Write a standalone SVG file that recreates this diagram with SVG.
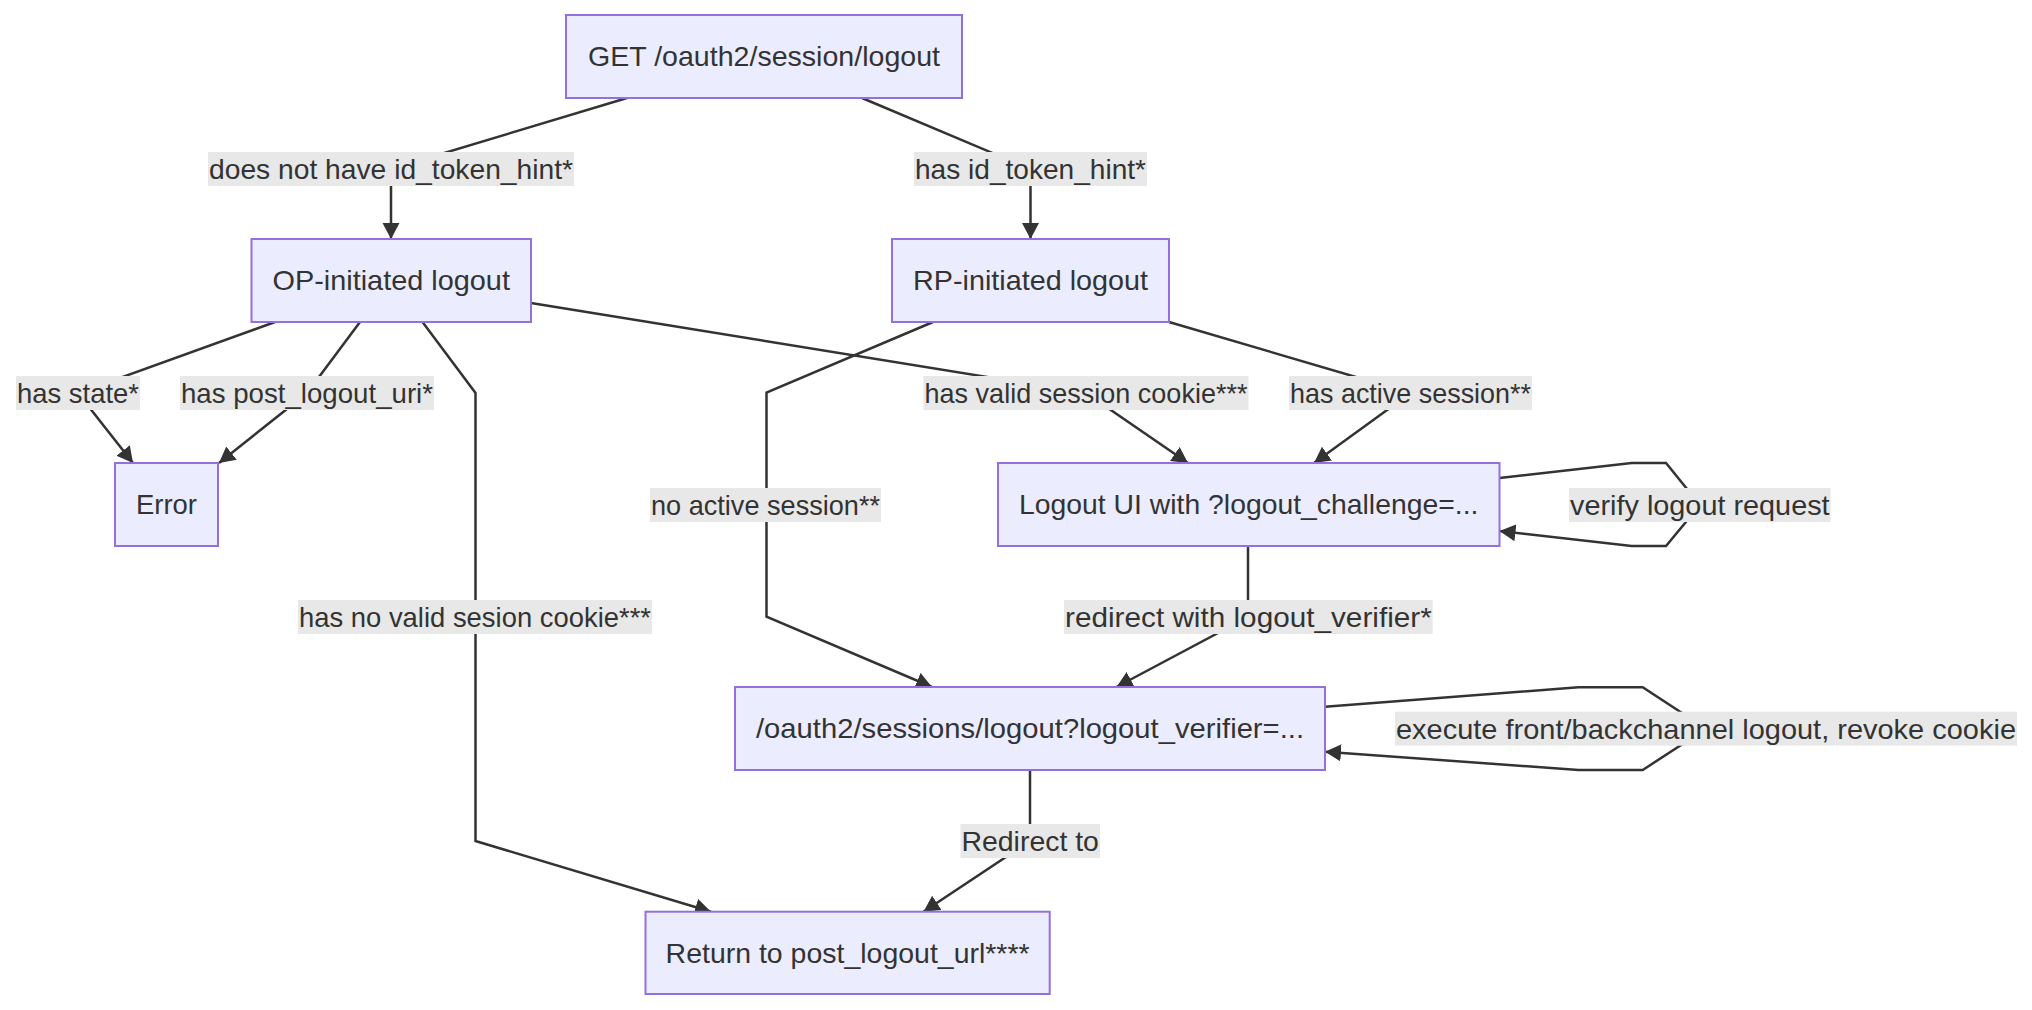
<svg xmlns="http://www.w3.org/2000/svg" width="2032" height="1010" viewBox="0 0 2032 1010">
<style>
.node rect{fill:#ECECFF;stroke:#9370DB;stroke-width:2}
.node text,.lbl text{font-family:"Liberation Sans",Arial,sans-serif;font-size:28px;fill:#333333;text-anchor:middle}
.edge{fill:none;stroke:#333333;stroke-width:2.5}
.lbl rect{fill:#E8E8E8}
</style>
<defs>
<marker id="arr" markerUnits="userSpaceOnUse" markerWidth="18" markerHeight="18" refX="16" refY="8.5" orient="auto">
<path d="M0,0 L16,8.5 L0,17 Z" fill="#333333"/>
</marker>
</defs>
<rect width="2032" height="1010" fill="#ffffff"/>
<g id="connectors">
<polyline class="edge" points="627,98 391,169 391,239" marker-end="url(#arr)"/>
<polyline class="edge" points="862,98 1030.5,169 1030.5,239" marker-end="url(#arr)"/>
<polyline class="edge" points="275,322 78,393 133,463" marker-end="url(#arr)"/>
<polyline class="edge" points="360,322 307,393 219,463" marker-end="url(#arr)"/>
<polyline class="edge" points="422.5,322 475.5,393 475.5,841 711,911.7" marker-end="url(#arr)"/>
<polyline class="edge" points="531,303 1086,393 1188,463" marker-end="url(#arr)"/>
<polyline class="edge" points="933,322 766.5,392.7 766.5,616.7 932,687" marker-end="url(#arr)"/>
<polyline class="edge" points="1169,322 1410.5,393 1314,463" marker-end="url(#arr)"/>
<polyline class="edge" points="1499.5,478 1631.7,463 1666,463 1700,505 1666,546 1631.7,546 1499.5,531" marker-end="url(#arr)"/>
<polyline class="edge" points="1248,546 1248,617 1116.5,687" marker-end="url(#arr)"/>
<polyline class="edge" points="1325,706.7 1578.5,687.3 1642.7,687.3 1706,728.7 1642.7,770 1578.5,770 1325,751.7" marker-end="url(#arr)"/>
<polyline class="edge" points="1030,770 1030,841 923.5,911.7" marker-end="url(#arr)"/>
<g class="lbl">
<rect x="208" y="152" width="366" height="34"/><text x="391" y="169" dy="0.35em" textLength="364" lengthAdjust="spacingAndGlyphs">does not have id_token_hint*</text>
<rect x="914" y="152" width="233" height="34"/><text x="1030.5" y="169" dy="0.35em" textLength="231" lengthAdjust="spacingAndGlyphs">has id_token_hint*</text>
<rect x="16" y="376" width="124" height="34"/><text x="78" y="393" dy="0.35em" textLength="122" lengthAdjust="spacingAndGlyphs">has state*</text>
<rect x="180" y="376" width="254" height="34"/><text x="307" y="393" dy="0.35em" textLength="252" lengthAdjust="spacingAndGlyphs">has post_logout_uri*</text>
<rect x="923.5" y="376" width="325" height="34"/><text x="1086" y="393" dy="0.35em" textLength="323" lengthAdjust="spacingAndGlyphs">has valid session cookie***</text>
<rect x="1289" y="376" width="243" height="34"/><text x="1410.5" y="393" dy="0.35em" textLength="241" lengthAdjust="spacingAndGlyphs">has active session**</text>
<rect x="650" y="488" width="231" height="34"/><text x="765.5" y="505" dy="0.35em" textLength="229" lengthAdjust="spacingAndGlyphs">no active session**</text>
<rect x="1569" y="488" width="261.6" height="34"/><text x="1699.8" y="505" dy="0.35em" textLength="259.6" lengthAdjust="spacingAndGlyphs">verify logout request</text>
<rect x="298" y="600" width="354" height="34"/><text x="475" y="617" dy="0.35em" textLength="352" lengthAdjust="spacingAndGlyphs">has no valid sesion cookie***</text>
<rect x="1064" y="600" width="368.7" height="34"/><text x="1248.4" y="617" dy="0.35em" textLength="366.7" lengthAdjust="spacingAndGlyphs">redirect with logout_verifier*</text>
<rect x="1395" y="711.7" width="622" height="34"/><text x="1706" y="728.7" dy="0.35em" textLength="620" lengthAdjust="spacingAndGlyphs">execute front/backchannel logout, revoke cookie</text>
<rect x="960.5" y="824" width="139.5" height="34"/><text x="1030.2" y="841" dy="0.35em" textLength="137.5" lengthAdjust="spacingAndGlyphs">Redirect to</text>
</g>
</g>
<g id="n-get" class="node"><rect x="566" y="15" width="396" height="83"/><text x="764" y="56.5" dy="0.35em" textLength="352" lengthAdjust="spacingAndGlyphs">GET /oauth2/session/logout</text></g>
<g id="n-op" class="node"><rect x="251.5" y="239" width="279.5" height="83"/><text x="391.2" y="280.5" dy="0.35em" textLength="237.5" lengthAdjust="spacingAndGlyphs">OP-initiated logout</text></g>
<g id="n-rp" class="node"><rect x="892" y="239" width="277" height="83"/><text x="1030.5" y="280.5" dy="0.35em" textLength="235" lengthAdjust="spacingAndGlyphs">RP-initiated logout</text></g>
<g id="n-error" class="node"><rect x="115" y="463" width="103" height="83"/><text x="166.5" y="504.5" dy="0.35em" textLength="61" lengthAdjust="spacingAndGlyphs">Error</text></g>
<g id="n-logoutui" class="node"><rect x="998" y="463" width="501.5" height="83"/><text x="1248.7" y="504.5" dy="0.35em" textLength="459.5" lengthAdjust="spacingAndGlyphs">Logout UI with ?logout_challenge=...</text></g>
<g id="n-sessions" class="node"><rect x="735" y="687" width="590" height="83"/><text x="1030" y="728.5" dy="0.35em" textLength="548" lengthAdjust="spacingAndGlyphs">/oauth2/sessions/logout?logout_verifier=...</text></g>
<g id="n-return" class="node"><rect x="645.5" y="911.7" width="404.2" height="82.3"/><text x="847.6" y="952.8" dy="0.35em" textLength="364" lengthAdjust="spacingAndGlyphs">Return to post_logout_url****</text></g>
</svg>
